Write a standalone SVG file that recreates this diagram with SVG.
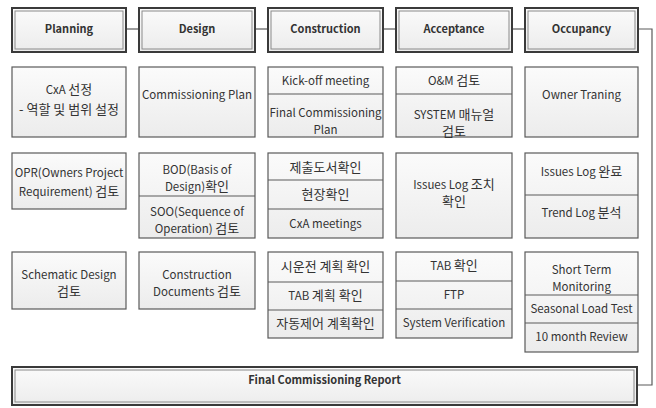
<svg xmlns="http://www.w3.org/2000/svg" width="656" height="408" viewBox="0 0 656 408">
  <defs>
    <linearGradient id="fillGrad" x1="0" y1="0" x2="0" y2="1">
      <stop offset="0" stop-color="#fbfbfb"/>
      <stop offset="1" stop-color="#ececec"/>
    </linearGradient>
    <style>
      .head-outer { fill: url(#fillGrad); stroke: #3a3a3a; stroke-width: 2; }
      .head-inner { fill: none; stroke: #8a8a8a; stroke-width: 1; }
      .box { fill: url(#fillGrad); stroke: #5a5a5a; stroke-width: 1.2; }
      .div { stroke: #5a5a5a; stroke-width: 1.2; }
      .conn { fill: none; stroke: #5a5a5a; stroke-width: 1.2; }
      text { font-family: "Noto Sans CJK KR", "Noto Sans", sans-serif; fill: #333; text-anchor: middle; }
      .ht { font-size: 11px; font-weight: bold; }
      .t { font-size: 11.5px; }
      .k { font-size: 13px; }
    </style>
  </defs>
  <rect width="656" height="408" fill="#ffffff"/>

  <!-- connectors between phases and to the final report -->
  <g id="connectors">
    <line class="conn" x1="126" y1="29" x2="139" y2="29"/>
    <line class="conn" x1="255" y1="29" x2="268" y2="29"/>
    <line class="conn" x1="383" y1="29" x2="396" y2="29"/>
    <line class="conn" x1="512" y1="29" x2="525" y2="29"/>
    <polyline class="conn" points="638,29 652,29 652,385 637,385"/>
  </g>

  <!-- phase headers -->
  <g id="planning">
    <rect class="head-outer" x="12" y="8" width="114" height="44"/>
    <rect class="head-inner" x="15" y="11" width="108" height="38"/>
    <text class="ht" x="69" y="33">Planning</text>
  </g>
  <g id="design">
    <rect class="head-outer" x="139" y="8" width="116" height="44"/>
    <rect class="head-inner" x="142" y="11" width="110" height="38"/>
    <text class="ht" x="197" y="33">Design</text>
  </g>
  <g id="construction">
    <rect class="head-outer" x="268" y="8" width="115" height="44"/>
    <rect class="head-inner" x="271" y="11" width="109" height="38"/>
    <text class="ht" x="325.5" y="33">Construction</text>
  </g>
  <g id="acceptance">
    <rect class="head-outer" x="396" y="8" width="116" height="44"/>
    <rect class="head-inner" x="399" y="11" width="110" height="38"/>
    <text class="ht" x="454" y="33">Acceptance</text>
  </g>
  <g id="occupancy">
    <rect class="head-outer" x="525" y="8" width="113" height="44"/>
    <rect class="head-inner" x="528" y="11" width="107" height="38"/>
    <text class="ht" x="581.5" y="33">Occupancy</text>
  </g>

  <!-- row 1 -->
  <g id="cxa-selection">
    <rect class="box" x="12" y="67" width="114" height="70"/>
    <text class="t" x="69" y="94">CxA <tspan class="k">선정</tspan></text>
    <text class="t" x="69" y="114"><tspan class="k">- 역할 및 범위 설정</tspan></text>
  </g>
  <g id="commissioning-plan">
    <rect class="box" x="139" y="67" width="116" height="70"/>
    <text class="t" x="197" y="99">Commissioning Plan</text>
  </g>
  <g id="kickoff-final-plan">
    <rect class="box" x="268" y="67" width="115" height="70"/>
    <line class="div" x1="268" y1="94" x2="383" y2="94"/>
    <text class="t" x="325.5" y="85">Kick-off meeting</text>
    <text class="t" x="325.5" y="117">Final Commissioning</text>
    <text class="t" x="325.5" y="134">Plan</text>
  </g>
  <g id="om-system-manual">
    <rect class="box" x="396" y="67" width="116" height="70"/>
    <line class="div" x1="396" y1="94" x2="512" y2="94"/>
    <text class="t" x="454" y="85">O&amp;M <tspan class="k">검토</tspan></text>
    <text class="t" x="454" y="119">SYSTEM <tspan class="k">매뉴얼</tspan></text>
    <text class="t" x="454" y="136"><tspan class="k">검토</tspan></text>
  </g>
  <g id="owner-training">
    <rect class="box" x="525" y="67" width="113" height="70"/>
    <text class="t" x="581.5" y="99">Owner Traning</text>
  </g>

  <!-- row 2 -->
  <g id="opr-review">
    <rect class="box" x="12" y="153" width="114" height="56"/>
    <text class="t" x="69" y="177">OPR(Owners Project</text>
    <text class="t" x="69" y="196">Requirement) <tspan class="k">검토</tspan></text>
  </g>
  <g id="bod-soo">
    <rect class="box" x="139" y="153" width="116" height="85"/>
    <line class="div" x1="139" y1="196" x2="255" y2="196"/>
    <text class="t" x="197" y="174">BOD(Basis of</text>
    <text class="t" x="197" y="191">Design)<tspan class="k">확인</tspan></text>
    <text class="t" x="197" y="216">SOO(Sequence of</text>
    <text class="t" x="197" y="233">Operation) <tspan class="k">검토</tspan></text>
  </g>
  <g id="submittal-site-meetings">
    <rect class="box" x="268" y="153" width="115" height="85"/>
    <line class="div" x1="268" y1="180" x2="383" y2="180"/>
    <line class="div" x1="268" y1="209" x2="383" y2="209"/>
    <text class="t" x="325.5" y="172"><tspan class="k">제출도서확인</tspan></text>
    <text class="t" x="325.5" y="199"><tspan class="k">현장확인</tspan></text>
    <text class="t" x="325.5" y="228">CxA meetings</text>
  </g>
  <g id="issues-log-action">
    <rect class="box" x="396" y="153" width="116" height="85"/>
    <text class="t" x="454" y="189">Issues Log <tspan class="k">조치</tspan></text>
    <text class="t" x="454" y="206"><tspan class="k">확인</tspan></text>
  </g>
  <g id="issues-trend-log">
    <rect class="box" x="525" y="153" width="113" height="85"/>
    <line class="div" x1="525" y1="195" x2="638" y2="195"/>
    <text class="t" x="581.5" y="176">Issues Log <tspan class="k">완료</tspan></text>
    <text class="t" x="581.5" y="217">Trend Log <tspan class="k">분석</tspan></text>
  </g>

  <!-- row 3 -->
  <g id="schematic-design">
    <rect class="box" x="12" y="252" width="114" height="57"/>
    <text class="t" x="69" y="279">Schematic Design</text>
    <text class="t" x="69" y="296"><tspan class="k">검토</tspan></text>
  </g>
  <g id="construction-documents">
    <rect class="box" x="139" y="252" width="116" height="57"/>
    <text class="t" x="197" y="279">Construction</text>
    <text class="t" x="197" y="296">Documents <tspan class="k">검토</tspan></text>
  </g>
  <g id="pre-commissioning-plans">
    <rect class="box" x="268" y="252" width="115" height="86"/>
    <line class="div" x1="268" y1="282" x2="383" y2="282"/>
    <line class="div" x1="268" y1="310" x2="383" y2="310"/>
    <text class="t" x="325.5" y="271"><tspan class="k">시운전 계획 확인</tspan></text>
    <text class="t" x="325.5" y="300">TAB <tspan class="k">계획 확인</tspan></text>
    <text class="t" x="325.5" y="328"><tspan class="k">자동제어 계획확인</tspan></text>
  </g>
  <g id="tab-ftp-verification">
    <rect class="box" x="396" y="252" width="116" height="86"/>
    <line class="div" x1="396" y1="281" x2="512" y2="281"/>
    <line class="div" x1="396" y1="309" x2="512" y2="309"/>
    <text class="t" x="454" y="270">TAB <tspan class="k">확인</tspan></text>
    <text class="t" x="454" y="299">FTP</text>
    <text class="t" x="454" y="327">System Verification</text>
  </g>
  <g id="monitoring-tests">
    <rect class="box" x="525" y="252" width="113" height="100"/>
    <line class="div" x1="525" y1="295" x2="638" y2="295"/>
    <line class="div" x1="525" y1="323" x2="638" y2="323"/>
    <text class="t" x="581.5" y="274">Short Term</text>
    <text class="t" x="581.5" y="291">Monitoring</text>
    <text class="t" x="581.5" y="313">Seasonal Load Test</text>
    <text class="t" x="581.5" y="341">10 month Review</text>
  </g>

  <!-- final report -->
  <g id="final-report">
    <rect class="head-outer" x="12" y="367" width="625" height="38"/>
    <rect class="head-inner" x="15" y="370" width="619" height="32"/>
    <text class="ht" x="324.5" y="384">Final Commissioning Report</text>
  </g>
</svg>
